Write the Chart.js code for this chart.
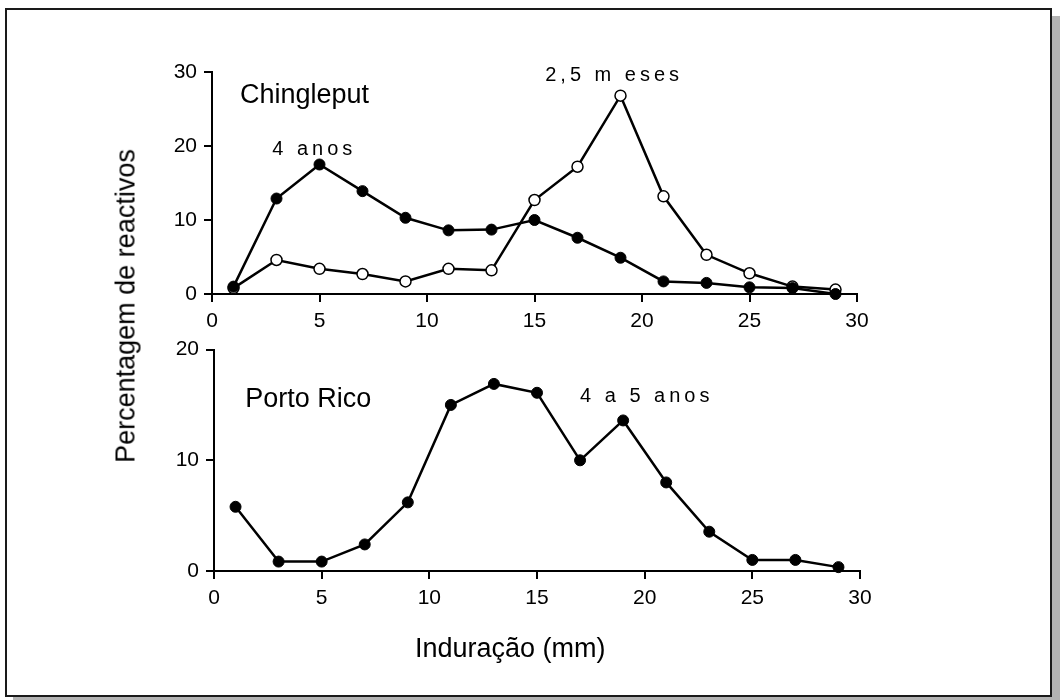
<!DOCTYPE html>
<html>

<head>
    <title>Induração</title>
    <style>
        body { margin: 0; background: #fff; width: 1060px; height: 700px; overflow: hidden; position: relative; font-family: "Liberation Sans", Arial, sans-serif; }
        #frame { position: absolute; left: 5px; top: 8px; width: 1047px; height: 689px; box-sizing: border-box; border: 2px solid #1a1a1a; background: #fff; box-shadow: 8px 8px 0 #b3b3b3; }
        canvas { position: absolute; left: 0; }
        .title { position: absolute; color: #000; font-size: 27px; white-space: nowrap; }
        #xtitle { left: 415px; top: 633px; }
        #ytitle { left: 126px; top: 306px; transform: translate(-50%, -50%) rotate(-90deg); }
    </style>
</head>

<body>
    <div id="frame"></div>
    <div style="position:absolute;left:0;top:0;width:1060px;height:345px"><canvas id="top" style="top:0"></canvas></div>
    <div style="position:absolute;left:0;top:330px;width:1060px;height:370px"><canvas id="bottom" style="top:0"></canvas></div>
    <div class="title" id="xtitle">Induração (mm)</div>
    <div class="title" id="ytitle">Percentagem de reactivos</div>
    <script src="https://cdn.jsdelivr.net/npm/chart.js"></script>
    <script type="text/javascript">
        // induration classes (mm)
        const induracao = [1, 3, 5, 7, 9, 11, 13, 15, 17, 19, 21, 23, 25, 27, 29];
        // Chingleput, % of reactors
        const chingleput4anos = [1.0, 12.9, 17.5, 13.9, 10.3, 8.6, 8.7, 10.0, 7.6, 4.9, 1.7, 1.5, 0.9, 0.8, 0.0];
        const chingleput25meses = [0.8, 4.6, 3.4, 2.7, 1.7, 3.4, 3.2, 12.7, 17.2, 26.8, 13.2, 5.3, 2.8, 1.0, 0.6];
        // Porto Rico, % of reactors
        const portoRico = [5.8, 0.85, 0.85, 2.4, 6.2, 15.0, 16.9, 16.1, 10.0, 13.6, 8.0, 3.55, 1.0, 1.0, 0.35];

        const xTicks = [0, 5, 10, 15, 20, 25, 30];
        const yTicksTop = [0, 10, 20, 30];
        const yTicksBottom = [0, 10, 20];

        // text labels: [text, x, y, font size, letter spacing], x/y in data units
        const labelsTop = [
            ['Chingleput', 1.3, 25.8, 27, 0],
            ['4 anos', 2.8, 18.8, 20, 4],
            ['2,5 m eses', 15.5, 28.8, 20, 4]
        ];
        const labelsBottom = [
            ['Porto Rico', 1.45, 14.8, 27, 0],
            ['4 a 5 anos', 17.0, 15.3, 20, 4]
        ];

        const FONT = '"Liberation Sans", Arial, sans-serif';

        function pts(ys) {
            return induracao.map((x, i) => ({ x: x, y: ys[i] }));
        }

        const textPlugin = {
            id: 'textos',
            afterDatasetsDraw(chart, args, opts) {
                const ctx = chart.ctx;
                ctx.save();
                ctx.fillStyle = '#000';
                ctx.textBaseline = 'alphabetic';
                ctx.textAlign = 'left';
                opts.items.forEach(([t, x, y, size, sp]) => {
                    ctx.font = size + 'px ' + FONT;
                    ctx.letterSpacing = sp + 'px';
                    ctx.fillText(t, chart.scales.x.getPixelForValue(x), chart.scales.y.getPixelForValue(y));
                });
                ctx.restore();
            }
        };

        function axis(ticks, fit) {
            return {
                type: 'linear',
                min: ticks[0],
                max: ticks[ticks.length - 1],
                afterBuildTicks: s => { s.ticks = ticks.map(v => ({ value: v })); },
                afterFit: fit,
                border: { display: true, color: '#000', width: 2 },
                grid: { drawOnChartArea: false, drawTicks: true, tickLength: 8, color: '#000', lineWidth: 2 },
                ticks: { color: '#000', font: { family: FONT, size: 21 }, padding: 7 }
            };
        }

        function makechart(id, datasets, yTicks, padding, labels) {
            const ctx = document.getElementById(id).getContext('2d');
            return new Chart(ctx, {
                type: 'line',
                data: { datasets: datasets },
                options: {
                    responsive: true,
                    maintainAspectRatio: false,
                    animation: false,
                    layout: { padding: padding },
                    plugins: { legend: { display: false }, tooltip: { enabled: false }, textos: { items: labels } },
                    scales: {
                        x: axis(xTicks, s => { s.height = 45; }),
                        y: axis(yTicks, s => { s.width = 62; })
                    }
                },
                plugins: [textPlugin]
            });
        }

        const filled = {
            borderColor: '#000', borderWidth: 2.5, tension: 0, clip: false,
            pointRadius: 5.5, pointBackgroundColor: '#000', pointBorderColor: '#000', pointBorderWidth: 1
        };
        const open = {
            borderColor: '#000', borderWidth: 2.5, tension: 0, clip: false,
            pointRadius: 5.5, pointBackgroundColor: '#fff', pointBorderColor: '#000', pointBorderWidth: 1.5
        };

        makechart('top', [
            Object.assign({ label: '4 anos', data: pts(chingleput4anos) }, filled),
            Object.assign({ label: '2,5 meses', data: pts(chingleput25meses) }, open)
        ], yTicksTop, { left: 150, right: 203, top: 72, bottom: 6 }, labelsTop);

        makechart('bottom', [
            Object.assign({ label: '4 a 5 anos', data: pts(portoRico) }, filled)
        ], yTicksBottom, { left: 152, right: 200, top: 19, bottom: 84 }, labelsBottom);
    </script>
</body>

</html>
